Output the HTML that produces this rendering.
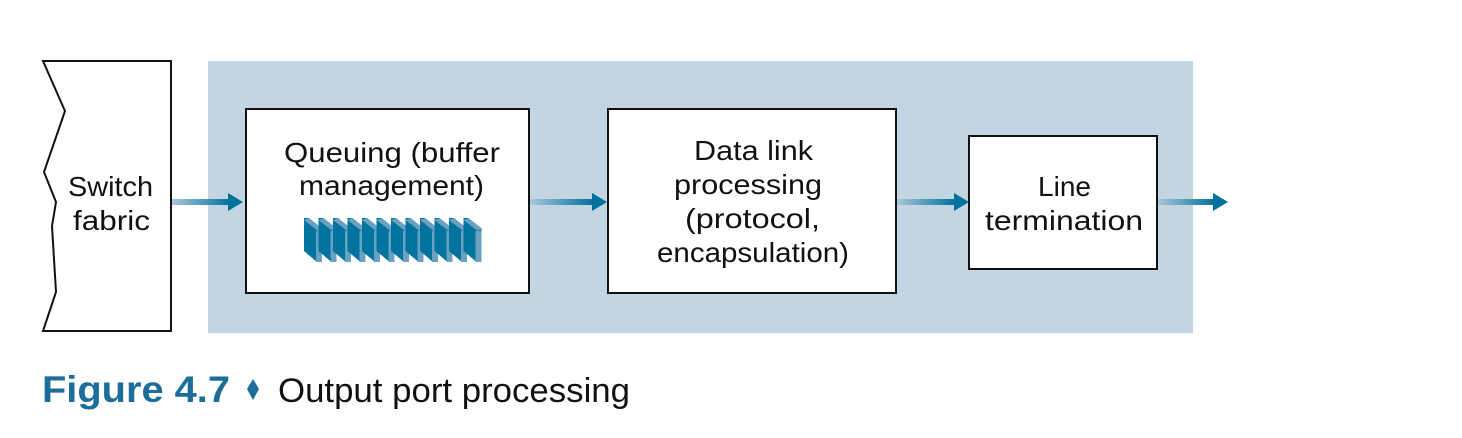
<!DOCTYPE html>
<html><head><meta charset="utf-8"><style>html,body{margin:0;padding:0;background:#fff}svg{display:block}</style></head>
<body>
<svg width="1462" height="438" viewBox="0 0 1462 438" xmlns="http://www.w3.org/2000/svg" font-family="Liberation Sans, sans-serif">
<defs>
<linearGradient id="g" x1="0" x2="1" y1="0" y2="0">
<stop offset="0" stop-color="#a9c6da"/><stop offset="1" stop-color="#00719d"/>
</linearGradient>
<g id="slab">
<polygon points="304,218 309,218 322,229 322,262 317,262 304,251" fill="#00739f"/>
<polygon points="309,218 323,229 318,231 304,220" fill="#6aa0c0"/>
<polygon points="316,231 322,231 322,262 316,262" fill="#6aa0c0"/>
</g>
</defs>
<rect x="208" y="61" width="985" height="272" fill="#c3d5e1"/>
<polygon points="43,61 171,61 171,331 43,331 56,292 52,226 56,202 44,172 65,111" fill="#fff" stroke="#111" stroke-width="2"/>
<g font-size="28" fill="#111" lengthAdjust="spacingAndGlyphs">
<text x="68" y="196" textLength="85" lengthAdjust="spacingAndGlyphs">Switch</text>
<text x="73" y="230" textLength="77" lengthAdjust="spacingAndGlyphs">fabric</text>
</g>
<rect x="246" y="109" width="283" height="184" fill="#fff" stroke="#111" stroke-width="2"/>
<g font-size="28" fill="#111">
<text x="284" y="162" textLength="216" lengthAdjust="spacingAndGlyphs">Queuing (buffer</text>
<text x="299" y="195" textLength="185" lengthAdjust="spacingAndGlyphs">management)</text>
</g>
<use href="#slab" x="0"/><use href="#slab" x="14.5"/><use href="#slab" x="29"/><use href="#slab" x="43.5"/>
<use href="#slab" x="58"/><use href="#slab" x="72.5"/><use href="#slab" x="87"/><use href="#slab" x="101.5"/>
<use href="#slab" x="116"/><use href="#slab" x="130.5"/><use href="#slab" x="145"/><use href="#slab" x="159.5"/>
<rect x="608" y="109" width="288" height="184" fill="#fff" stroke="#111" stroke-width="2"/>
<g font-size="28" fill="#111">
<text x="694" y="160" textLength="119" lengthAdjust="spacingAndGlyphs">Data link</text>
<text x="674" y="194" textLength="148" lengthAdjust="spacingAndGlyphs">processing</text>
<text x="685" y="228" textLength="135" lengthAdjust="spacingAndGlyphs">(protocol,</text>
<text x="657" y="262" textLength="192" lengthAdjust="spacingAndGlyphs">encapsulation)</text>
</g>
<rect x="969" y="136" width="188" height="133" fill="#fff" stroke="#111" stroke-width="2"/>
<g font-size="28" fill="#111">
<text x="1038" y="196" textLength="53" lengthAdjust="spacingAndGlyphs">Line</text>
<text x="985" y="230" textLength="158" lengthAdjust="spacingAndGlyphs">termination</text>
</g>
<g>
<rect x="172" y="199" width="58" height="6" fill="url(#g)"/><polygon points="228,193 243,202 228,211" fill="#00719d"/>
<rect x="530" y="199" width="63" height="6" fill="url(#g)"/><polygon points="592,193 607,202 592,211" fill="#00719d"/>
<rect x="897" y="199" width="58" height="6" fill="url(#g)"/><polygon points="954,193 969,202 954,211" fill="#00719d"/>
<rect x="1158" y="199" width="57" height="6" fill="url(#g)"/><polygon points="1213,193 1228,202 1213,211" fill="#00719d"/>
</g>
<text x="42" y="402" font-size="37" font-weight="bold" fill="#1b6d9a" textLength="188" lengthAdjust="spacingAndGlyphs">Figure 4.7</text>
<polygon points="253,379 259,389 253,400 247,389" fill="#1b6d9a"/>
<text x="278" y="402" font-size="34" fill="#111" textLength="352" lengthAdjust="spacingAndGlyphs">Output port processing</text>
</svg>
</body></html>
